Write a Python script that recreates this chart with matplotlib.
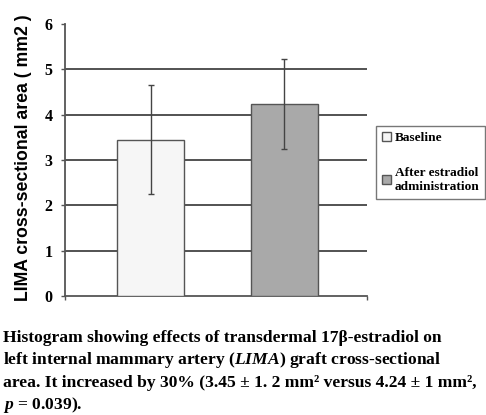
import matplotlib.pyplot as plt

# values
groups = ['Baseline', 'After estradiol\nadministration']
means = [3.45, 4.24]
errors = [1.2, 1.0]
bar_colors = ['#f6f6f6', '#a9a9a9']
y_ticks = [0, 1, 2, 3, 4, 5, 6]

caption = [
    'Histogram showing effects of transdermal 17β-estradiol on',
    r'left internal mammary artery ($\mathit{LIMA}$) graft cross-sectional',
    'area. It increased by 30% (3.45 ± 1. 2 mm² versus 4.24 ± 1 mm²,',
    r'$\mathit{p}$ = 0.039).',
]

plt.rcParams['mathtext.fontset'] = 'custom'
plt.rcParams['mathtext.rm'] = 'Liberation Serif:bold'
plt.rcParams['mathtext.it'] = 'Liberation Serif:italic:bold'

fig = plt.figure(figsize=(4.86, 4.15), dpi=100)
ax = fig.add_axes([0.134, 0.287, 0.621, 0.655])

x = list(range(len(groups)))
ax.bar(x, means, width=0.5, color=bar_colors, edgecolor='#555555',
       linewidth=1, zorder=3, label=groups)
ax.errorbar(x, means, yerr=errors, fmt='none', ecolor='#444444',
            elinewidth=1, capsize=2, capthick=1, zorder=4)

ax.set_xlim(-0.64, 1.62)
ax.set_ylim(0, 6)
ax.set_yticks(y_ticks)
ax.set_yticklabels([str(t) for t in y_ticks], fontfamily='Liberation Serif',
                   fontweight='bold', fontsize=11.5)
for t in y_ticks[1:-1]:
    ax.axhline(t, color='#444444', lw=1.3, zorder=1)

ax.set_xticks([-0.64, 1.62])
ax.set_xticklabels([])
ax.tick_params(axis='both', direction='out', length=3, width=1,
               color='#555555', pad=6)
for side in ['top', 'right']:
    ax.spines[side].set_visible(False)
for side in ['left', 'bottom']:
    ax.spines[side].set_color('#555555')
    ax.spines[side].set_linewidth(1.3)

fig.text(24 / 486, 1 - 158 / 415, 'LIMA cross-sectional area ( mm2 )',
         rotation=90, ha='center', va='center', fontfamily='Liberation Sans',
         fontweight='bold', fontsize=12.7)

leg = ax.legend(loc='upper left', bbox_to_anchor=(376 / 486, 1 - 126 / 415),
                bbox_transform=fig.transFigure, frameon=True, fancybox=False,
                edgecolor='#555555', handlelength=0.7, handleheight=0.7,
                handletextpad=0.25, labelspacing=1.7, borderpad=0.45,
                borderaxespad=0,
                prop={'family': 'Liberation Serif', 'weight': 'bold', 'size': 9.6})
leg.get_frame().set_linewidth(1)

ys = [338, 360, 383, 405]
for line, yy in zip(caption, ys):
    fig.text(3 / 486, 1 - yy / 415, line, ha='left', va='center',
             fontfamily='Liberation Serif', fontweight='bold', fontsize=12.6)

fig.savefig('out.png', dpi=100)
